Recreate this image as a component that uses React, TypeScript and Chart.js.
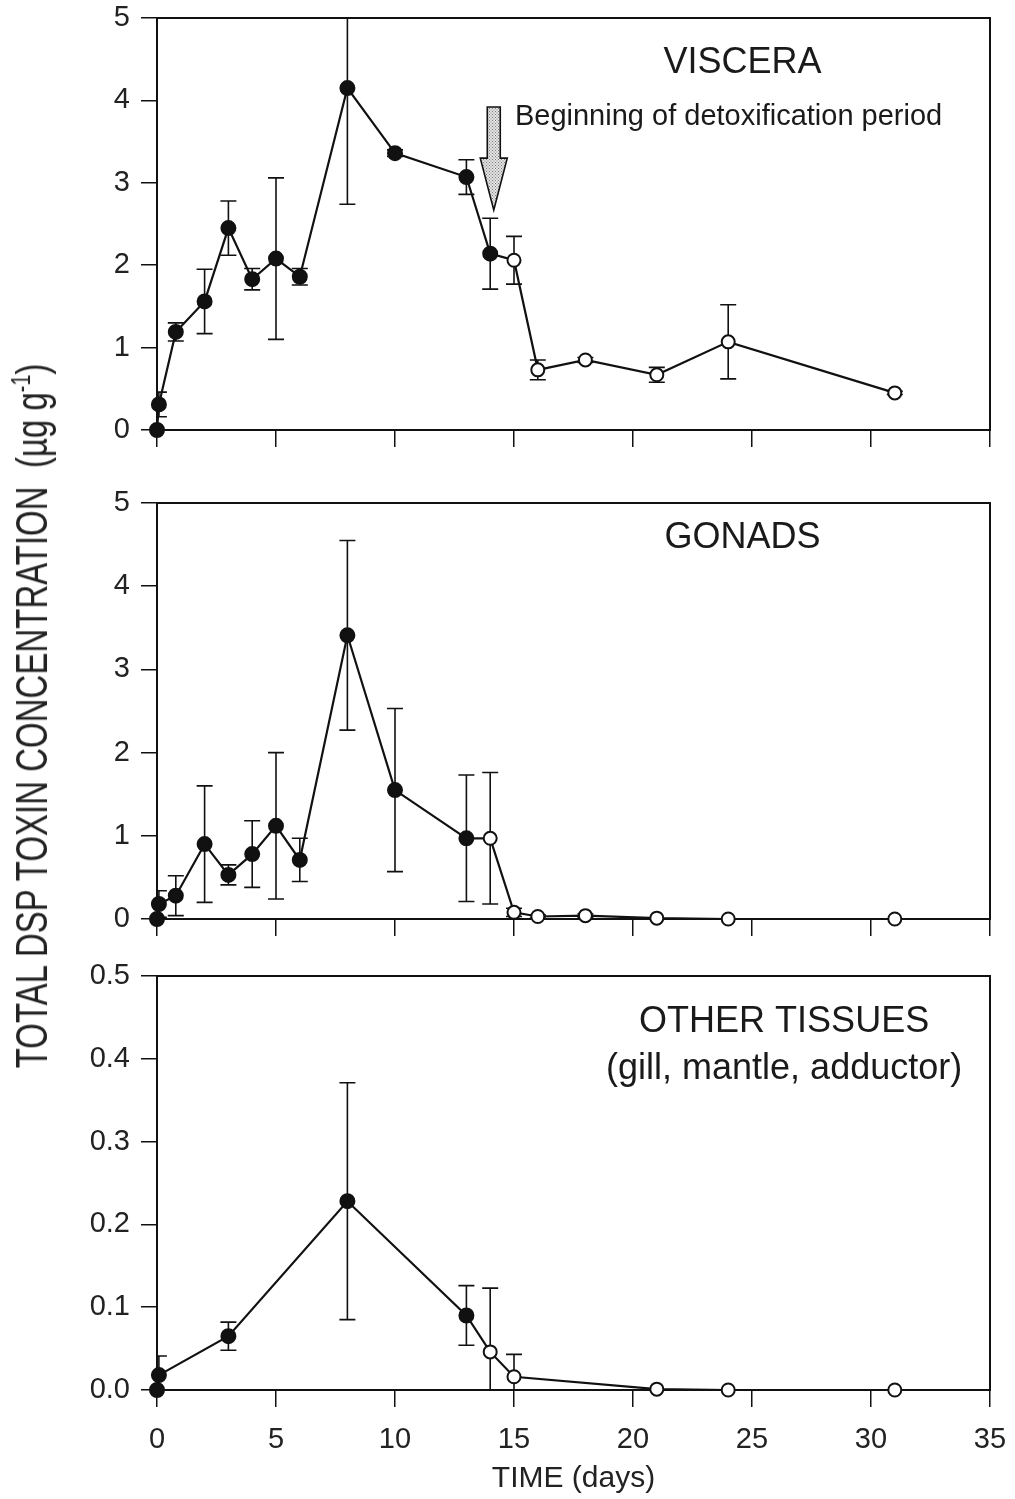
import React, { useEffect, useRef } from "react";
import { Chart, registerables } from "chart.js";
Chart.register(...registerables);

const FONT = "'Liberation Sans', Arial, Helvetica, sans-serif";
const INK = "#111";

// ---- VISCERA ----
const visceraDays = [0, 0.08, 0.79, 2, 3, 4, 5, 6, 8, 10, 13, 14, 15, 16, 18, 21, 24, 31];
const visceraMean = [0, 0.31, 1.19, 1.56, 2.45, 1.83, 2.08, 1.86, 4.15, 3.36, 3.07, 2.14, 2.06, 0.73, 0.85, 0.67, 1.07, 0.45];
const visceraSD = [0, 0.15, 0.11, 0.39, 0.33, 0.13, 0.98, 0.1, 1.41, 0.04, 0.21, 0.43, 0.29, 0.12, 0.03, 0.09, 0.45, 0.02];
const visceraOpenFrom = 15; // first day drawn with open symbols (detoxification)

// ---- GONADS ----
const gonadsDays = [0, 0.08, 0.79, 2, 3, 4, 5, 6, 8, 10, 13, 14, 15, 16, 18, 21, 24, 31];
const gonadsMean = [0, 0.18, 0.28, 0.9, 0.53, 0.78, 1.12, 0.71, 3.41, 1.55, 0.97, 0.97, 0.08, 0.03, 0.04, 0.01, 0, 0];
const gonadsSD = [0, 0.16, 0.24, 0.7, 0.12, 0.4, 0.88, 0.26, 1.14, 0.98, 0.76, 0.79, 0.05, 0.02, 0.02, 0, 0, 0];
const gonadsOpenFrom = 14;

// ---- OTHER TISSUES ----
const otherDays = [0, 0.08, 3, 8, 13, 14, 15, 21, 24, 31];
const otherMean = [0, 0.018, 0.065, 0.228, 0.09, 0.046, 0.016, 0.001, 0, 0];
const otherSD = [0, 0.023, 0.017, 0.143, 0.036, 0.077, 0.027, 0, 0, 0];
const otherOpenFrom = 14;

// axis ticks
const xTickStep = 5;
const xMax = 35;

// annotation
const arrowDay = 14.15;
const arrowTop = 3.92;
const arrowHeadStart = 3.3;
const arrowTip = 2.67;
const arrowText = "Beginning of detoxification period";

type Label = { text: string; day: number; value: number; size: number; align: CanvasTextAlign; baseline: CanvasTextBaseline };

function framePlugin(sd: number[]) {
  return {
    id: "frameErr",
    beforeDatasetsDraw(chart: any) {
      const { ctx, chartArea } = chart;
      ctx.save();
      ctx.strokeStyle = INK;
      ctx.lineWidth = 2;
      ctx.strokeRect(chartArea.left, chartArea.top, chartArea.right - chartArea.left, chartArea.bottom - chartArea.top);
      ctx.beginPath();
      ctx.rect(chartArea.left, chartArea.top, chartArea.right - chartArea.left, chartArea.bottom - chartArea.top);
      ctx.clip();
      const meta = chart.getDatasetMeta(0);
      const ys = chart.scales.y;
      const data = chart.data.datasets[0].data;
      ctx.lineWidth = 1.6;
      meta.data.forEach((pt: any, i: number) => {
        const e = sd[i];
        if (!e) return;
        const v = data[i].y;
        const x = pt.x;
        const yt = ys.getPixelForValue(v + e);
        const yb = ys.getPixelForValue(v - e);
        ctx.beginPath();
        ctx.moveTo(x, yt);
        ctx.lineTo(x, yb);
        ctx.moveTo(x - 8, yt);
        ctx.lineTo(x + 8, yt);
        ctx.moveTo(x - 8, yb);
        ctx.lineTo(x + 8, yb);
        ctx.stroke();
      });
      ctx.restore();
    },
  };
}

function labelPlugin(labels: Label[]) {
  return {
    id: "panelLabels",
    afterDatasetsDraw(chart: any) {
      const { ctx } = chart;
      const xs = chart.scales.x;
      const ys = chart.scales.y;
      ctx.save();
      ctx.fillStyle = "#1a1a1a";
      labels.forEach((l) => {
        ctx.font = `${l.size}px ${FONT}`;
        ctx.textAlign = l.align;
        ctx.textBaseline = l.baseline;
        ctx.fillText(l.text, xs.getPixelForValue(l.day), ys.getPixelForValue(l.value));
      });
      ctx.restore();
    },
  };
}

const arrowPlugin = {
  id: "detoxArrow",
  afterDatasetsDraw(chart: any) {
    const { ctx } = chart;
    const xs = chart.scales.x;
    const ys = chart.scales.y;
    const cx = xs.getPixelForValue(arrowDay);
    const yTop = ys.getPixelForValue(arrowTop);
    const yHead = ys.getPixelForValue(arrowHeadStart);
    const yTip = ys.getPixelForValue(arrowTip);
    const sw = 6.5;
    const hw = 13.5;
    const pc = document.createElement("canvas");
    pc.width = 3;
    pc.height = 3;
    const p = pc.getContext("2d")!;
    p.fillStyle = "#e4e4e4";
    p.fillRect(0, 0, 3, 3);
    p.fillStyle = "#7a7a7a";
    p.fillRect(0, 0, 1, 1);
    p.fillRect(1.5, 1.5, 1, 1);
    const pattern = ctx.createPattern(pc, "repeat");
    ctx.save();
    ctx.beginPath();
    ctx.moveTo(cx - sw, yTop);
    ctx.lineTo(cx + sw, yTop);
    ctx.lineTo(cx + sw, yHead);
    ctx.lineTo(cx + hw, yHead);
    ctx.lineTo(cx, yTip);
    ctx.lineTo(cx - hw, yHead);
    ctx.lineTo(cx - sw, yHead);
    ctx.closePath();
    ctx.fillStyle = pattern || "#ccc";
    ctx.fill();
    ctx.strokeStyle = INK;
    ctx.lineWidth = 1.6;
    ctx.stroke();
    ctx.restore();
  },
};

function makeConfig(opts: {
  days: number[];
  mean: number[];
  sd: number[];
  openFrom: number;
  yMax: number;
  yStep: number;
  decimals: number;
  showX: boolean;
  padTop: number;
  xHeight: number;
  labels: Label[];
  extra?: any[];
}) {
  const { days, mean, sd, openFrom } = opts;
  return {
    type: "line" as const,
    data: {
      datasets: [
        {
          data: days.map((d, i) => ({ x: d, y: mean[i] })),
          borderColor: INK,
          borderWidth: 2.2,
          tension: 0,
          pointRadius: days.map((d) => (d >= openFrom ? 6.5 : 7)),
          pointBackgroundColor: days.map((d) => (d >= openFrom ? "#fff" : INK)),
          pointBorderColor: INK,
          pointBorderWidth: 2,
          clip: false,
        },
      ],
    },
    options: {
      animation: false,
      responsive: false,
      maintainAspectRatio: false,
      layout: { autoPadding: false, padding: { top: opts.padTop, right: 25, left: 0, bottom: 0 } },
      plugins: { legend: { display: false }, tooltip: { enabled: false } },
      scales: {
        x: {
          type: "linear",
          min: 0,
          max: xMax,
          afterFit: (s: any) => {
            s.height = opts.xHeight;
            s.paddingLeft = 0;
            s.paddingRight = 0;
            s.paddingTop = 0;
            s.paddingBottom = 0;
          },
          ticks: {
            stepSize: xTickStep,
            display: opts.showX,
            font: { family: FONT, size: 29 },
            color: "#222",
            padding: 16,
            maxRotation: 0,
            autoSkip: false,
          },
          grid: { display: true, drawOnChartArea: false, drawTicks: true, tickLength: 17, color: INK, lineWidth: 1.5 },
          border: { display: false },
          title: {
            display: opts.showX,
            text: "TIME (days)",
            font: { family: FONT, size: 30 },
            color: "#222",
            padding: { top: 0, bottom: 2 },
          },
        },
        y: {
          min: 0,
          max: opts.yMax,
          afterFit: (s: any) => {
            s.width = 157;
            s.paddingLeft = 0;
            s.paddingRight = 0;
            s.paddingTop = 0;
            s.paddingBottom = 0;
          },
          ticks: {
            stepSize: opts.yStep,
            callback: (v: any) => Number(v).toFixed(opts.decimals),
            font: { family: FONT, size: 29 },
            color: "#222",
            padding: 11,
          },
          grid: { display: true, drawOnChartArea: false, drawTicks: true, tickLength: 16, color: INK, lineWidth: 1.5 },
          border: { display: false },
        },
      },
    },
    plugins: [framePlugin(sd), labelPlugin(opts.labels), ...(opts.extra || [])],
  };
}

function Panel(props: { top: number; height: number; config: any }) {
  const ref = useRef<HTMLCanvasElement>(null);
  useEffect(() => {
    const chart = new Chart(ref.current!, props.config);
    return () => chart.destroy();
  }, []);
  return (
    <canvas
      ref={ref}
      width={1015}
      height={props.height}
      style={{ position: "absolute", left: 0, top: props.top, width: 1015, height: props.height, display: "block" }}
    />
  );
}

export default function App() {
  useEffect(() => {
    document.body.style.margin = "0";
  }, []);

  const c1 = makeConfig({
    days: visceraDays,
    mean: visceraMean,
    sd: visceraSD,
    openFrom: visceraOpenFrom,
    yMax: 5,
    yStep: 1,
    decimals: 0,
    showX: false,
    padTop: 18,
    xHeight: 30,
    labels: [
      { text: "VISCERA", day: 24.6, value: 4.45, size: 36, align: "center", baseline: "middle" },
      { text: arrowText, day: 15.04, value: 3.7, size: 29, align: "left", baseline: "alphabetic" },
    ],
    extra: [arrowPlugin],
  });
  const c2 = makeConfig({
    days: gonadsDays,
    mean: gonadsMean,
    sd: gonadsSD,
    openFrom: gonadsOpenFrom,
    yMax: 5,
    yStep: 1,
    decimals: 0,
    showX: false,
    padTop: 33,
    xHeight: 31,
    labels: [{ text: "GONADS", day: 24.6, value: 4.58, size: 36, align: "center", baseline: "middle" }],
  });
  const c3 = makeConfig({
    days: otherDays,
    mean: otherMean,
    sd: otherSD,
    openFrom: otherOpenFrom,
    yMax: 0.5,
    yStep: 0.1,
    decimals: 1,
    showX: true,
    padTop: 26,
    xHeight: 109,
    labels: [
      { text: "OTHER TISSUES", day: 26.35, value: 0.444, size: 36, align: "center", baseline: "middle" },
      { text: "(gill, mantle, adductor)", day: 26.35, value: 0.387, size: 36, align: "center", baseline: "middle" },
    ],
  });

  return (
    <div style={{ position: "relative", width: 1015, height: 1499, overflow: "hidden", background: "#fff" }}>
      <Panel top={0} height={460} config={c1} />
      <Panel top={470} height={480} config={c2} />
      <Panel top={950} height={549} config={c3} />
      <div
        style={{
          position: "absolute",
          left: 31,
          top: 716,
          transform: "translate(-50%, -50%) rotate(-90deg) scaleY(1.35)",
          fontFamily: FONT,
          fontSize: 33,
          color: "#222",
          whiteSpace: "pre",
          lineHeight: 1,
        }}
      >
        {"TOTAL DSP TOXIN CONCENTRATION  (µg g"}
        <sup style={{ fontSize: "0.6em", lineHeight: 0 }}>-1</sup>
        {")"}
      </div>
    </div>
  );
}
